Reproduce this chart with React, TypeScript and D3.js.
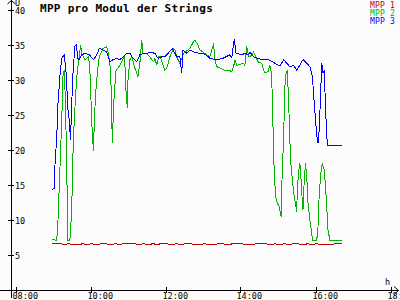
import React from "react";
import * as d3 from "d3";

const title = "MPP pro Modul der Strings";
const seriesNames = ["MPP 1", "MPP 2", "MPP 3"];
const seriesColors = ["#c00000", "#00b400", "#0000ff"];
const xTickLabels = ["08:00", "10:00", "12:00", "14:00", "16:00", "18:00"];
const yTickValues = [5, 10, 15, 20, 25, 30, 35, 40];

const mpp1Times = ["08:59","09:05","09:12","09:18","09:25","09:32","09:40","09:48","09:55","10:02","10:10","10:18","10:25","10:32","10:40","10:48","10:55","11:02","11:10","11:18","11:25","11:32","11:40","11:48","11:55","12:02","12:10","12:18","12:25","12:32","12:40","12:48","12:55","13:02","13:10","13:18","13:25","13:32","13:40","13:48","13:55","14:02","14:10","14:18","14:25","14:32","14:40","14:48","14:55","15:02","15:10","15:18","15:25","15:32","15:40","15:48","15:55","16:02","16:10","16:18","16:25","16:32","16:42"];
const mpp1Values = [6.7,6.6,6.6,6.5,6.6,6.5,6.5,6.6,6.5,6.6,6.5,6.6,6.6,6.5,6.6,6.5,6.7,6.6,6.6,6.5,6.6,6.5,6.6,6.5,6.7,6.6,6.5,6.6,6.5,6.6,6.6,6.5,6.5,6.6,6.5,6.5,6.6,6.6,6.5,6.6,6.7,6.6,6.5,6.5,6.6,6.6,6.6,6.5,6.6,6.5,6.6,6.5,6.6,6.6,6.5,6.6,6.5,6.6,6.5,6.5,6.5,6.6,6.6];

const mpp2Times = ["08:59","09:06","09:08","09:11","09:14","09:16","09:18","09:20","09:22","09:24","09:27","09:29","09:31","09:32","09:34","09:37","09:39","09:42","09:44","09:46","09:51","09:57","09:59","10:01","10:03","10:05","10:06","10:09","10:11","10:14","10:20","10:26","10:28","10:31","10:33","10:34","10:35","10:36","10:38","10:41","10:47","10:54","10:55","10:57","10:58","10:59","11:00","11:03","11:06","11:11","11:16","11:19","11:22","11:24","11:30","11:35","11:41","11:43","11:46","11:49","11:52","11:55","11:59","12:02","12:07","12:13","12:15","12:18","12:23","12:29","12:39","12:45","12:47","12:51","12:55","13:06","13:11","13:14","13:17","13:19","13:22","13:27","13:35","13:41","13:46","13:49","13:51","13:54","14:05","14:07","14:10","14:13","14:15","14:18","14:21","14:23","14:28","14:34","14:37","14:39","14:44","14:47","14:50","14:51","14:53","14:54","14:57","14:59","15:02","15:05","15:06","15:09","15:11","15:13","15:15","15:16","15:18","15:20","15:23","15:26","15:30","15:31","15:34","15:35","15:37","15:39","15:40","15:42","15:44","15:46","15:48","15:51","15:54","15:55","16:02","16:04","16:06","16:09","16:11","16:14","16:16","16:18","16:20","16:23","16:36","16:42"];
const mpp2Values = [7.2,7.1,10.0,17.1,24.3,30.5,31.4,26.7,17.1,7.1,7.1,10.0,14.8,19.5,24.3,29.0,31.4,33.3,35.0,33.8,32.9,33.3,31.4,26.7,21.9,19.8,24.3,29.0,31.0,33.3,34.5,34.8,34.0,32.4,29.0,24.3,21.0,23.8,28.1,31.4,32.1,33.3,32.4,28.1,27.1,26.0,30.0,32.9,33.3,31.7,30.5,32.4,35.7,33.8,33.8,33.3,32.6,33.1,32.1,33.3,33.3,32.4,31.4,31.7,33.3,34.5,34.3,33.3,32.4,33.8,34.5,35.5,35.7,35.2,34.3,33.6,33.3,34.3,35.2,32.9,31.9,31.7,31.4,31.4,31.2,31.9,32.9,32.1,32.4,32.1,34.8,33.3,33.3,33.6,34.0,33.6,32.6,32.4,31.4,31.0,31.2,32.1,30.7,26.2,20.5,16.2,12.9,12.4,11.9,10.5,14.8,21.9,29.0,31.0,31.4,29.0,24.3,18.6,15.7,13.3,11.2,14.8,17.6,18.1,15.7,12.4,11.4,15.7,18.1,16.2,12.4,10.0,8.1,7.1,7.1,9.0,13.8,17.1,18.1,17.1,14.8,11.9,8.6,7.1,7.0,7.1];

const mpp3Times = ["08:59","09:02","09:03","09:06","09:08","09:11","09:14","09:18","09:21","09:24","09:26","09:28","09:30","09:32","09:35","09:37","09:40","09:42","09:46","09:51","09:58","10:05","10:10","10:14","10:20","10:26","10:31","10:36","10:42","10:47","10:52","10:58","11:03","11:08","11:14","11:19","11:24","11:30","11:35","11:43","11:48","11:54","11:59","12:04","12:11","12:18","12:23","12:26","12:28","12:34","12:39","12:45","12:55","13:03","13:11","13:22","13:32","13:43","13:46","13:50","13:53","14:02","14:07","14:13","14:15","14:21","14:31","14:42","14:53","15:03","15:09","15:19","15:25","15:30","15:40","15:46","15:51","15:55","15:58","16:00","16:02","16:04","16:06","16:08","16:10","16:12","16:14","16:16","16:18","16:20","16:39","16:42"];
const mpp3Values = [14.4,14.5,17.6,21.9,26.7,30.5,33.1,33.6,31.0,25.7,24.3,21.4,26.7,31.0,34.8,35.0,33.1,32.9,33.6,33.8,33.6,32.9,33.6,34.5,34.3,34.0,32.6,32.9,33.1,32.9,33.3,33.8,33.8,33.1,32.6,33.6,33.8,33.8,34.0,33.8,33.1,33.3,33.3,33.8,34.5,33.3,33.3,31.0,34.3,33.8,34.3,34.0,33.8,33.7,33.1,32.9,33.1,33.6,33.2,35.8,33.8,33.6,33.8,33.6,34.0,33.3,33.0,33.0,32.5,32.0,32.9,31.9,32.1,31.4,32.9,32.4,31.9,30.5,26.7,24.3,22.1,21.0,22.9,27.6,32.4,31.0,31.4,26.2,21.9,20.6,20.6,20.7];

const W = 400;
const H = 300;
const parseTime = d3.timeParse("%H:%M");

export default function App() {
  const x = d3
    .scaleTime()
    .domain([parseTime("08:00") as Date, parseTime("18:00") as Date])
    .range([15.5, 390.5]);
  const y = d3.scaleLinear().domain([0, 40]).range([290, 10]);

  const line = d3
    .line<[Date, number]>()
    .x((d) => x(d[0]))
    .y((d) => y(d[1]));

  const series = [
    { times: mpp1Times, values: mpp1Values },
    { times: mpp2Times, values: mpp2Values },
    { times: mpp3Times, values: mpp3Values },
  ].map((s) => s.times.map((t, i) => [parseTime(t) as Date, s.values[i]] as [Date, number]));

  const axisX = 11;
  const axisY = 290;
  const mono = "'DejaVu Sans Mono', monospace";

  return (
    <svg
      width={W}
      height={H}
      style={{ position: "fixed", left: 0, top: 0, background: "#fcfcfc" }}
    >
      <rect x={0} y={0} width={W} height={H} fill="#fcfcfc" />
      {series.map((pts, i) => (
        <path
          key={i}
          d={line(pts) || ""}
          fill="none"
          stroke={seriesColors[i]}
          strokeWidth={1}
          shapeRendering="crispEdges"
        />
      ))}
      <g stroke="#000" strokeWidth={1} shapeRendering="crispEdges">
        <line x1={axisX + 0.5} y1={0} x2={axisX + 0.5} y2={axisY + 8} />
        <line x1={0} y1={axisY + 0.5} x2={W - 2} y2={axisY + 0.5} />
      </g>
      <g stroke="#000" strokeWidth={1} fill="none">
        <path d={`M${axisX - 3.5},4 L${axisX + 0.5},0.5 L${axisX + 4.5},4`} />
        <path d={`M${W - 6},${axisY - 3.5} L${W - 1.5},${axisY + 0.5} L${W - 6},${axisY + 4.5}`} />
      </g>
      {yTickValues.map((v) => (
        <g key={v}>
          <line
            x1={8}
            x2={14}
            y1={Math.round(y(v)) + 0.5}
            y2={Math.round(y(v)) + 0.5}
            stroke="#000"
            shapeRendering="crispEdges"
          />
          <text
            x={15}
            y={Math.round(y(v)) + 3.5}
            fontFamily={mono}
            fontSize={8.5}
            fill="#000"
          >
            {v}
          </text>
        </g>
      ))}
      {xTickLabels.map((t) => {
        const px = Math.round(x(parseTime(t) as Date)) + 0.5;
        return (
          <g key={t}>
            <line
              x1={px}
              x2={px}
              y1={axisY - 3}
              y2={axisY + 3}
              stroke="#000"
              shapeRendering="crispEdges"
            />
            <text x={px - 4} y={299} fontFamily={mono} fontSize={8.5} fill="#000">
              {t}
            </text>
          </g>
        );
      })}
      <text x={15} y={6} fontFamily={mono} fontSize={8.5} fill="#000">
        U
      </text>
      <text x={385} y={285} fontFamily={mono} fontSize={8.5} fill="#000">
        h
      </text>
      <text
        x={40}
        y={12}
        fontFamily={mono}
        fontSize={11}
        fontWeight="bold"
        letterSpacing={0.3}
        fill="#000"
      >
        {title}
      </text>
      {seriesNames.map((n, i) => (
        <text
          key={n}
          x={370}
          y={7.5 + i * 8}
          fontFamily={mono}
          fontSize={8}
          letterSpacing={0.2}
          fill={seriesColors[i]}
        >
          {n}
        </text>
      ))}
    </svg>
  );
}
